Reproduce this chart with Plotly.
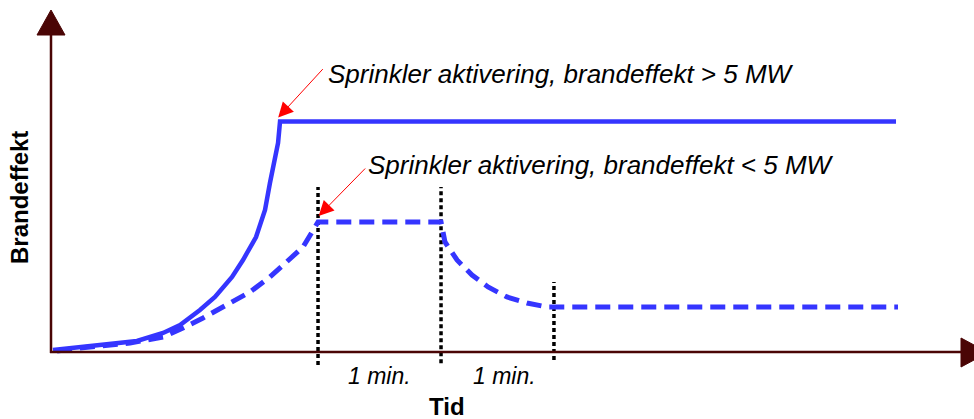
import plotly.graph_objects as go

# ---------------- data (time in minutes, fire effect in MW) ----------------
solid_t = [0.016, 0.374, 0.699, 0.911, 1.049, 1.211, 1.333, 1.472, 1.561, 1.667,
           1.740, 1.780, 1.846, 1.862, 6.870]
solid_p = [0.05, 0.175, 0.275, 0.475, 0.675, 1.05, 1.375, 1.875, 2.3, 2.875,
           3.55, 4.225, 5.225, 5.76, 5.76]

dashed_t = [0.049, 0.236, 0.642, 0.911, 1.073, 1.236, 1.455, 1.618, 1.780, 1.919,
            2.049, 2.171, 3.171, 3.203, 3.301, 3.423, 3.553, 3.707, 3.870, 4.033,
            4.195, 6.886]
dashed_p = [0.025, 0.1, 0.225, 0.375, 0.6, 0.85, 1.225, 1.5, 1.875, 2.25,
            2.625, 3.25, 3.25, 2.75, 2.3, 1.925, 1.625, 1.375, 1.225, 1.125,
            1.125, 1.125]

marker_t = [2.171, 3.171, 4.089]
marker_top = [4.125, 4.125, 1.75]
marker_bottom = [-0.325, -0.28, -0.2]

interval_labels = ["1 min.", "1 min."]
interval_t = [2.67, 3.69]

label_high = "Sprinkler aktivering, brandeffekt > 5 MW"
label_low = "Sprinkler aktivering, brandeffekt < 5 MW"
x_title = "Tid"
y_title = "Brandeffekt"

# ---------------- layout helpers ----------------
W, H = 974, 419
PX_PER_MIN, PX_PER_MW = 123.0, 40.0
X0, Y0 = 51.0, 352.0  # origin in pixels


def PX(px):
    return px / W


def PY(py):
    return 1 - py / H


AXIS_COLOR = "#4a0505"
BLUE = "#3535ff"
FONT = "Liberation Sans, Arial, Helvetica, sans-serif"

fig = go.Figure()

# vertical dotted markers
for t, top, bot in zip(marker_t, marker_top, marker_bottom):
    fig.add_trace(go.Scatter(x=[t, t], y=[bot, top], mode="lines",
                             line=dict(color="black", width=3.5, dash="4px,3px"),
                             hoverinfo="skip", showlegend=False))

fig.add_trace(go.Scatter(x=solid_t, y=solid_p, mode="lines",
                         line=dict(color=BLUE, width=4.5),
                         showlegend=False))
fig.add_trace(go.Scatter(x=dashed_t, y=dashed_p, mode="lines",
                         line=dict(color=BLUE, width=5, dash="15px,8px"),
                         showlegend=False))

shapes = [
    # y axis
    dict(type="line", xref="paper", yref="paper", x0=PX(X0), x1=PX(X0),
         y0=PY(Y0 + 1), y1=PY(30), line=dict(color=AXIS_COLOR, width=2.5)),
    dict(type="path", xref="paper", yref="paper",
         path=f"M {PX(37)},{PY(35)} L {PX(65)},{PY(35)} L {PX(51)},{PY(10)} Z",
         fillcolor=AXIS_COLOR, line=dict(color=AXIS_COLOR, width=1)),
    # x axis
    dict(type="line", xref="paper", yref="paper", x0=PX(X0 - 1), x1=PX(965),
         y0=PY(Y0), y1=PY(Y0), line=dict(color=AXIS_COLOR, width=2.5)),
    dict(type="path", xref="paper", yref="paper",
         path=f"M {PX(961)},{PY(338)} L {PX(961)},{PY(367)} L {PX(988)},{PY(352.5)} Z",
         fillcolor=AXIS_COLOR, line=dict(color=AXIS_COLOR, width=1)),
]

annotations = [
    # red arrows
    dict(x=solid_t[-2] - 0.015, y=solid_p[-2] + 0.1, xref="x", yref="y", text="",
         showarrow=True, ax=46, ay=-50, arrowcolor="red", arrowwidth=1,
         arrowhead=2, arrowsize=3),
    dict(x=marker_t[0] + 0.005, y=dashed_p[11] + 0.15, xref="x", yref="y", text="",
         showarrow=True, ax=48, ay=-49, arrowcolor="red", arrowwidth=1,
         arrowhead=2, arrowsize=3),
    # labels
    dict(x=PX(326), y=PY(74), xref="paper", yref="paper", text=f"<i>{label_high}</i>",
         showarrow=False, xanchor="left", yanchor="middle",
         font=dict(family=FONT, size=26, color="black")),
    dict(x=PX(366), y=PY(165), xref="paper", yref="paper", text=f"<i>{label_low}</i>",
         showarrow=False, xanchor="left", yanchor="middle",
         font=dict(family=FONT, size=26, color="black")),
    dict(x=PX(447), y=PY(406), xref="paper", yref="paper", text=f"<b>{x_title}</b>",
         showarrow=False, xanchor="center", yanchor="middle",
         font=dict(family=FONT, size=24, color="black")),
    dict(x=PX(19), y=PY(198), xref="paper", yref="paper", text=f"<b>{y_title}</b>",
         showarrow=False, xanchor="center", yanchor="middle", textangle=-90,
         font=dict(family=FONT, size=24, color="black")),
]
for lab, t in zip(interval_labels, interval_t):
    annotations.append(dict(x=t, y=PY(376), xref="x", yref="paper", text=f"<i>{lab}</i>",
                            showarrow=False, xanchor="center", yanchor="middle",
                            font=dict(family=FONT, size=23, color="black")))

fig.update_layout(
    width=W, height=H, autosize=False,
    margin=dict(l=0, r=0, t=0, b=0, pad=0),
    paper_bgcolor="white", plot_bgcolor="white",
    xaxis=dict(range=[-X0 / PX_PER_MIN, (W - X0) / PX_PER_MIN], visible=False,
               fixedrange=True),
    yaxis=dict(range=[(Y0 - H) / PX_PER_MW, Y0 / PX_PER_MW], visible=False,
               fixedrange=True),
    shapes=shapes, annotations=annotations,
)

fig.write_html("out.html", config={"displayModeBar": False},
               post_script="document.body.style.margin='0px';document.body.style.overflow='hidden';")
